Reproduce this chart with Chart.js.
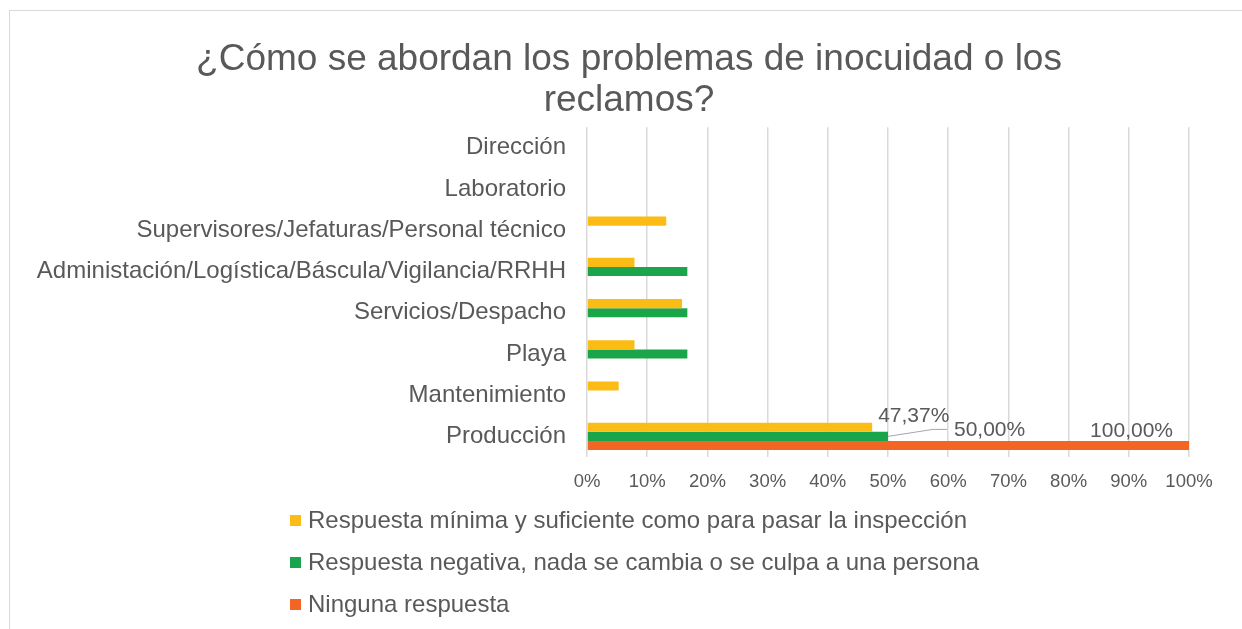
<!DOCTYPE html>
<html>
<head>
<meta charset="utf-8">
<script src="https://cdn.jsdelivr.net/npm/chart.js@4"></script>
<style>
  html, body { margin: 0; padding: 0; background: #fff; overflow: hidden; }
  body { width: 1242px; height: 629px; position: relative; font-family: "Liberation Sans", Arial, sans-serif; }
  #frame { position: absolute; left: 9px; top: 10px; width: 1238px; height: 640px; border: 1px solid #d9d9d9; }
  #wrap { position: absolute; left: 10px; top: 11px; width: 1238px; height: 618px; }
  #legend { position: absolute; left: 290px; top: 499px; color: #595959; font-size: 24px; }
  .item { height: 42px; display: flex; align-items: center; white-space: nowrap; }
  .box { width: 11px; height: 11px; margin-right: 7px; margin-top: 1px; }
</style>
</head>
<body>
<div id="frame"></div>
<div id="wrap"><canvas id="chart" width="1238" height="618"></canvas></div>
<div id="legend"></div>
<script>
const categories = ['Dirección', 'Laboratorio', 'Supervisores/Jefaturas/Personal técnico',
    'Administación/Logística/Báscula/Vigilancia/RRHH', 'Servicios/Despacho', 'Playa',
    'Mantenimiento', 'Producción'];
const minima = [0, 0, 13.16, 7.89, 15.79, 7.89, 5.26, 47.37];
const negativa = [0, 0, 0, 16.67, 16.67, 16.67, 0, 50.00];
const ninguna = [0, 0, 0, 0, 0, 0, 0, 100.00];
const seriesNames = ['Respuesta mínima y suficiente como para pasar la inspección',
    'Respuesta negativa, nada se cambia o se culpa a una persona', 'Ninguna respuesta'];
const colors = ['#fbbc16', '#1ba54b', '#f26522'];
const xTicks = [0, 10, 20, 30, 40, 50, 60, 70, 80, 90, 100];
const labeledCategory = 'Producción';

const gray = '#595959';
const font = 'Liberation Sans';

// data labels for the Producción bars only
const valueLabels = {
    id: 'valueLabels',
    afterDatasetsDraw(chart) {
        const ctx = chart.ctx;
        const idx = categories.indexOf(labeledCategory);
        ctx.save();
        ctx.font = '21px "' + font + '"';
        ctx.fillStyle = gray;
        ctx.textBaseline = 'middle';
        chart.data.datasets.forEach((ds, i) => {
            const bar = chart.getDatasetMeta(i).data[idx];
            const txt = ds.data[idx].toFixed(2).replace('.', ',') + '%';
            if (i === 0) {
                ctx.textAlign = 'left';
                ctx.fillText(txt, bar.x + 6, bar.y - 11);
            } else if (i === 1) {
                ctx.strokeStyle = '#a6a6a6';
                ctx.lineWidth = 1;
                ctx.beginPath();
                ctx.moveTo(bar.x, bar.y);
                ctx.lineTo(bar.x + 45, bar.y - 7);
                ctx.lineTo(bar.x + 59, bar.y - 7);
                ctx.stroke();
                ctx.textAlign = 'left';
                ctx.fillText(txt, bar.x + 66, bar.y - 6);
            } else {
                ctx.textAlign = 'right';
                ctx.fillText(txt, bar.x - 16, bar.y - 14);
            }
        });
        ctx.restore();
    }
};

const chart = new Chart(document.getElementById('chart'), {
    type: 'bar',
    data: {
        labels: categories,
        datasets: [
            { label: seriesNames[0], data: minima, backgroundColor: colors[0] },
            { label: seriesNames[1], data: negativa, backgroundColor: colors[1] },
            { label: seriesNames[2], data: ninguna, backgroundColor: colors[2] }
        ]
    },
    options: {
        indexAxis: 'y',
        responsive: false,
        animation: false,
        categoryPercentage: 0.66,
        barPercentage: 1,
        layout: { padding: { left: 0, right: 0, top: 0, bottom: 142 } },
        plugins: {
            legend: { display: false },
            tooltip: { enabled: false },
            title: {
                display: true,
                text: ['¿Cómo se abordan los problemas de inocuidad o los', 'reclamos?'],
                color: gray,
                font: { family: font, size: 37, weight: 'normal', lineHeight: 1.11 },
                padding: { top: 28, bottom: 6 }
            }
        },
        scales: {
            x: {
                min: 0, max: 100,
                afterFit: s => { s.height = 30; },
                afterBuildTicks: s => { s.ticks = xTicks.map(v => ({ value: v })); },
                grid: { color: '#d9d9d9', lineWidth: 1.5, drawTicks: false },
                border: { display: false },
                ticks: {
                    color: gray, padding: 14,
                    font: { family: font, size: 18.5 },
                    callback: v => v + '%'
                }
            },
            y: {
                afterFit: s => { s.width = 577; },
                grid: { display: false, drawTicks: false },
                border: { display: false },
                ticks: { color: gray, padding: 21, font: { family: font, size: 24 } }
            },
            // empty right-hand space so the title stays centred on the canvas
            yRight: {
                type: 'category',
                position: 'right',
                afterFit: s => { s.width = 59; },
                grid: { display: false, drawTicks: false },
                border: { display: false },
                ticks: { display: false }
            }
        }
    },
    plugins: [valueLabels]
});

const legend = document.getElementById('legend');
seriesNames.forEach((name, i) => {
    const row = document.createElement('div');
    row.className = 'item';
    row.innerHTML = '<span class="box" style="background:' + colors[i] + '"></span><span>' + name + '</span>';
    legend.appendChild(row);
});
</script>
</body>
</html>
